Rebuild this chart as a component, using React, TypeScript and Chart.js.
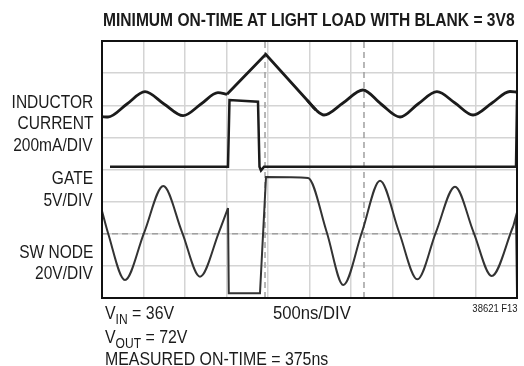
import React, { useEffect, useRef } from "react";
import { Chart, registerables } from "chart.js";

Chart.register(...registerables);

// Time axis in divisions (500 ns/DIV), 10 divisions; vertical axis in divisions, 8 divisions.
const IL_RING_A_T = [0, 0.145, 0.602, 1.036, 1.494, 1.952, 2.386, 2.795, 3.012];
const IL_RING_A_V = [5.644, 5.634, 6.039, 6.422, 6.039, 5.675, 6.039, 6.391, 6.341];
const IL_RAMP_T = [3.012, 3.945, 5.157];
const IL_RAMP_V = [6.341, 7.586, 5.852];
const IL_RING_B_T = [4.95, 5.157, 5.349, 5.807, 6.289, 6.723, 7.181, 7.614, 8.072, 8.506, 8.94, 9.398, 9.831, 10];
const IL_RING_B_V = [6.148, 5.852, 5.697, 6.07, 6.475, 6.039, 5.634, 6.039, 6.422, 6.07, 5.697, 6.07, 6.428, 6.412];

const GATE_T = [0.193, 3.036, 3.072, 3.759, 3.795, 3.831, 3.904, 9.976, 10];
const GATE_V = [4.087, 4.087, 6.163, 6.11, 4.087, 3.969, 4.087, 4.087, 6.163];

const SW_RING_A_T = [0, 0.145, 0.554, 1.012, 1.477, 1.928, 2.361, 2.819, 3.036];
const SW_RING_A_V = [2.708, 2.023, 0.56, 2.023, 3.486, 2.054, 0.663, 2.054, 2.802];
const SW_PULSE_T = [3.036, 3.055, 3.807, 3.952, 4.53];
const SW_PULSE_V = [2.802, 0.146, 0.146, 3.767, 3.757];
const SW_RING_B_T = [4.53, 4.964, 5.414, 5.814, 6.265, 6.699, 7.157, 7.598, 8.048, 8.506, 8.952, 9.39, 9.911];
const SW_RING_B_V = [3.757, 3.735, 2.054, 0.405, 2.054, 3.651, 2.054, 0.582, 2.054, 3.465, 2.054, 0.685, 2.241];
const SW_EDGE_T = [9.911, 9.976, 10];
const SW_EDGE_V = [2.241, 2.553, 0.156];

const CURSOR_T = [3.928, 6.313];
const CURSOR_LEVEL = 2;

const X_DIVS = 10;
const Y_DIVS = 8;

const FONT = '"Liberation Sans", Arial, sans-serif';
const INK = "#1b1b1b";

const pts = (t: number[], v: number[]) => t.map((x, i) => ({ x, y: v[i] }));

const frame = {
  id: "frame",
  afterDraw(chart: any) {
    const { ctx, chartArea: a } = chart;
    ctx.save();
    ctx.strokeStyle = "#111";
    ctx.lineWidth = 2;
    ctx.strokeRect(a.left, a.top, a.right - a.left, a.bottom - a.top);
    ctx.restore();
  },
};

export default function App() {
  const ref = useRef<HTMLCanvasElement>(null);
  useEffect(() => {
    if (!ref.current) return;
    const trace = (t: number[], v: number[], smooth: boolean, w: number, c: string) => ({
      data: pts(t, v),
      borderColor: c,
      borderWidth: w,
      pointRadius: 0,
      fill: false,
      tension: smooth ? 0.4 : 0,
      cubicInterpolationMode: smooth ? "monotone" : "default",
    });
    const cursor = (d: { x: number; y: number }[]) => ({
      data: d,
      borderColor: "#a0a0a0",
      borderWidth: 1.5,
      borderDash: [6, 4],
      pointRadius: 0,
      fill: false,
    });
    const chart = new Chart(ref.current, {
      type: "line",
      data: {
        datasets: [
          trace(IL_RING_A_T, IL_RING_A_V, true, 2.8, INK),
          trace(IL_RAMP_T, IL_RAMP_V, false, 2.8, INK),
          trace(IL_RING_B_T, IL_RING_B_V, true, 2.8, INK),
          trace(GATE_T, GATE_V, false, 2.5, INK),
          trace(SW_RING_A_T, SW_RING_A_V, true, 2, "#333"),
          trace(SW_PULSE_T, SW_PULSE_V, false, 2, "#333"),
          trace(SW_RING_B_T, SW_RING_B_V, true, 2, "#333"),
          trace(SW_EDGE_T, SW_EDGE_V, false, 2, "#333"),
          cursor([{ x: CURSOR_T[0], y: 0 }, { x: CURSOR_T[0], y: Y_DIVS }]),
          cursor([{ x: CURSOR_T[1], y: 0 }, { x: CURSOR_T[1], y: Y_DIVS }]),
          cursor([{ x: 0, y: CURSOR_LEVEL }, { x: X_DIVS, y: CURSOR_LEVEL }]),
        ] as any,
      },
      options: {
        animation: false,
        responsive: false,
        layout: { padding: { left: 102, top: 41, right: 7, bottom: 68 } },
        plugins: { legend: { display: false }, tooltip: { enabled: false }, title: { display: false } },
        scales: {
          x: {
            type: "linear",
            min: 0,
            max: X_DIVS,
            ticks: { display: false, stepSize: 1 },
            grid: { color: "#d4d4d4", lineWidth: 1.5, drawTicks: false },
            border: { display: false },
          },
          y: {
            type: "linear",
            min: 0,
            max: Y_DIVS,
            ticks: { display: false, stepSize: 1 },
            grid: { color: "#d4d4d4", lineWidth: 1.5, drawTicks: false },
            border: { display: false },
          },
        },
      },
      plugins: [frame],
    });
    return () => chart.destroy();
  }, []);

  const txt = (fs: number, sx: number, origin: string, bold = false): React.CSSProperties => ({
    position: "absolute",
    fontSize: fs,
    lineHeight: `${fs}px`,
    fontWeight: bold ? 700 : 400,
    whiteSpace: "nowrap",
    color: INK,
    transform: `scaleX(${sx})`,
    transformOrigin: origin,
  });
  const lbl = (top: number): React.CSSProperties => ({ ...txt(18.5, 0.84, "right center"), top, right: 524 - 93, textAlign: "right" });
  const low = (top: number, left: number): React.CSSProperties => ({ ...txt(18.5, 0.86, "left center"), top, left });
  const sub: React.CSSProperties = { fontSize: 14, position: "relative", top: 5 };

  return (
    <div style={{ position: "fixed", left: 0, top: 0, width: 524, height: 366, background: "#fff", fontFamily: FONT, overflow: "hidden" }}>
      <canvas ref={ref} width={524} height={366} style={{ position: "absolute", left: 0, top: 0 }} />
      <div style={{ ...txt(19, 0.82, "left center", true), left: 103, top: 9.9 }}>MINIMUM ON-TIME AT LIGHT LOAD WITH BLANK = 3V8</div>
      <div style={lbl(92.6)}>INDUCTOR</div>
      <div style={lbl(114.3)}>CURRENT</div>
      <div style={lbl(136)}>200mA/DIV</div>
      <div style={lbl(169.3)}>GATE</div>
      <div style={lbl(191)}>5V/DIV</div>
      <div style={lbl(242.6)}>SW NODE</div>
      <div style={lbl(264.3)}>20V/DIV</div>
      <div style={low(303.8, 105)}>V<span style={sub}>IN</span> = 36V</div>
      <div style={low(327.8, 105)}>V<span style={sub}>OUT</span> = 72V</div>
      <div style={low(349.8, 105)}>MEASURED ON-TIME = 375ns</div>
      <div style={{ ...low(304.3, 273), transform: "scaleX(0.9)" }}>500ns/DIV</div>
      <div style={{ ...txt(11, 0.86, "right center"), right: 6, top: 303 }}>38621 F13</div>
    </div>
  );
}
